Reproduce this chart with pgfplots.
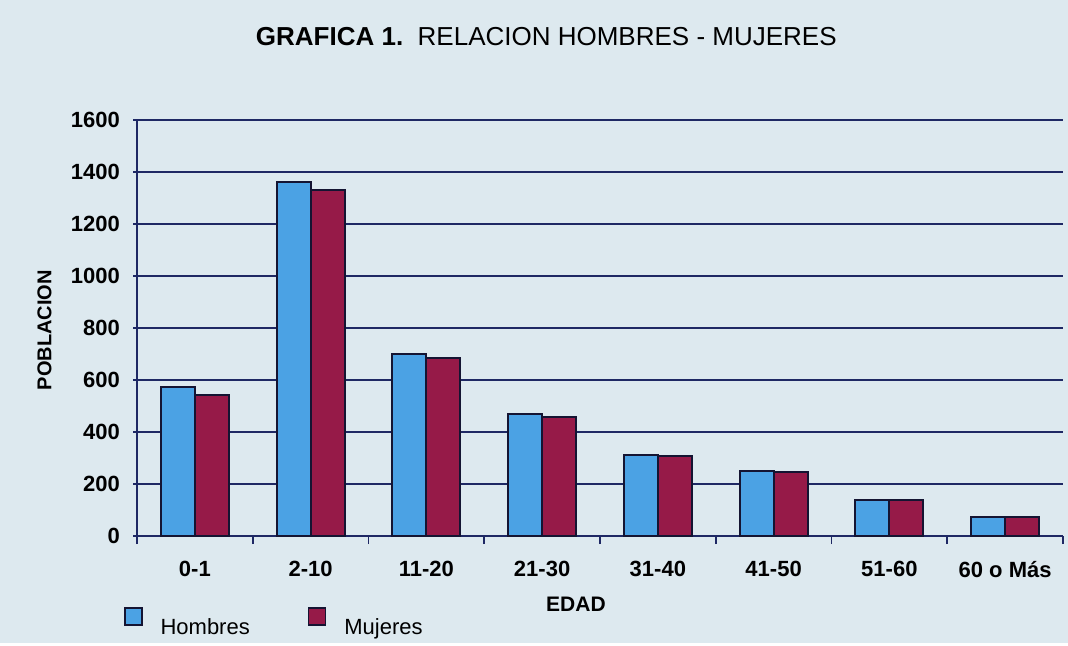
\documentclass[border=0pt]{standalone}
\usepackage{pgfplots}
\pgfplotsset{compat=1.18}
\usepackage{fontspec}
\setmainfont{Liberation Sans}
\definecolor{bg}{RGB}{221,233,239}
\definecolor{gridc}{RGB}{30,40,100}
\definecolor{hom}{RGB}{75,162,228}
\definecolor{muj}{RGB}{150,26,72}
\definecolor{edgec}{RGB}{20,20,50}
\begin{document}
\begin{tikzpicture}[x=1pt,y=1pt]
\fill[bg] (0,0) rectangle (534,321.5);
\begin{axis}[
  at={(68.5pt,53.5pt)}, anchor=south west,
  scale only axis, width=463pt, height=208pt,
  xmin=-0.5, xmax=7.5, ymin=0, ymax=1600,
  ybar=0pt, bar width=17pt,
  xtick={0,...,7},
  xticklabels={0-1,2-10,11-20,21-30,31-40,41-50,51-60,60 o Más},
  minor xtick={-0.5,0.5,...,7.5},
  major x tick style={draw=none},
  xtick align=outside, minor tick length=4pt,
  ytick={0,200,...,1600}, ytick align=center, major tick length=4pt,
  ymajorgrids, grid style={gridc, line width=0.8pt},
  axis x line*=bottom, axis y line*=left,
  axis line style={gridc, line width=0.8pt, -},
  tick style={gridc, line width=0.8pt},
  /pgf/number format/assume math mode=true,
  /pgf/number format/1000 sep={},
  ticklabel style={font=\bfseries\fontsize{11}{13}\selectfont},
  xticklabel style={yshift=-5pt},
  yticklabel style={xshift=-3pt},
  title={\textbf{GRAFICA 1.}\ \ RELACION HOMBRES - MUJERES},
  title style={at={(0.442,1.172)}, anchor=center, font=\fontsize{13}{15}\selectfont},
  xlabel={EDAD},
  xlabel style={at={(axis description cs:0.474,-0.163)}, anchor=center, font=\bfseries\fontsize{10.5}{12}\selectfont},
  ylabel={POBLACION},
  ylabel style={at={(axis description cs:-0.10,0.495)}, anchor=center, font=\bfseries\fontsize{10}{12}\selectfont},
  legend columns=2,
  legend style={at={(axis description cs:-0.021,-0.16)}, anchor=north west, draw=none, fill=none,
    font=\fontsize{11}{13}\selectfont,
    /tikz/every odd column/.append style={column sep=7pt},
    /tikz/every even column/.append style={column sep=27pt}},
  legend image code/.code={\draw[#1, line width=0.8pt] (0pt,1.5pt) rectangle (8.5pt,10pt);},
]
\addplot[fill=hom, draw=edgec, line width=1pt] coordinates {(0,575) (1,1360) (2,700) (3,468) (4,313) (5,250) (6,140) (7,75)};
\addplot[fill=muj, draw=edgec, line width=1pt] coordinates {(0,543) (1,1330) (2,683) (3,458) (4,307) (5,246) (6,138) (7,75)};
\legend{Hombres,Mujeres}
\end{axis}
\end{tikzpicture}
\end{document}
